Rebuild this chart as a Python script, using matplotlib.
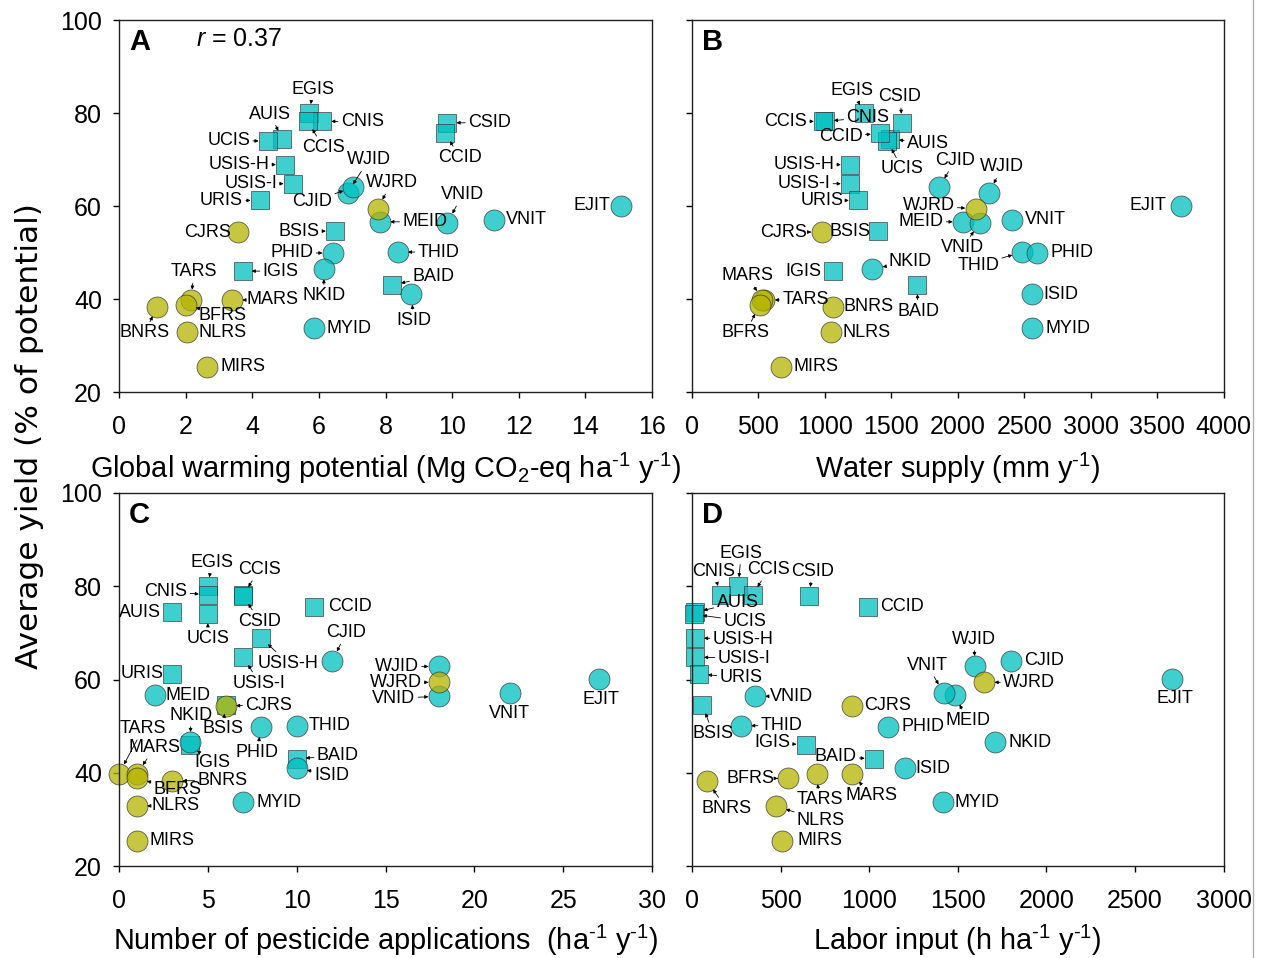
import numpy as np
import matplotlib
matplotlib.use("Agg")
import matplotlib.pyplot as plt
from matplotlib.lines import Line2D

plt.rcParams["font.family"] = "Liberation Sans"
plt.rcParams["mathtext.fontset"] = "custom"
plt.rcParams["mathtext.rm"] = "Liberation Sans"
plt.rcParams["mathtext.it"] = "Liberation Sans:italic"
plt.rcParams["mathtext.bf"] = "Liberation Sans:bold"

# site codes and system type (sq = irrigated upland, cy = irrigated rice, ol = rainfed rice)
sites = ["EGIS", "CNIS", "CCIS", "AUIS", "UCIS", "USIS-H", "USIS-I", "URIS", "BSIS",
         "IGIS", "CSID", "CCID", "BAID",
         "WJID", "CJID", "MEID", "VNID", "VNIT", "EJIT", "THID", "PHID", "NKID",
         "ISID", "MYID",
         "WJRD", "CJRS", "TARS", "MARS", "BFRS", "BNRS", "NLRS", "MIRS"]
group = ["sq"] * 13 + ["cy"] * 11 + ["ol"] * 8

yield_pct = np.array([80.0, 78.2, 78.2, 74.4, 74.0, 68.9, 64.8, 61.2, 54.6,
                      46.0, 77.9, 75.6, 43.0,
                      62.8, 64.0, 56.6, 56.4, 57.0, 60.1, 50.1, 49.9, 46.5,
                      41.0, 33.7,
                      59.4, 54.4, 39.8, 39.8, 38.8, 38.3, 32.9, 25.4])
gwp = np.array([5.71, 6.10, 5.66, 4.90, 4.46, 4.98, 5.21, 4.22, 6.48,
                3.71, 9.86, 9.79, 8.20,
                6.86, 7.03, 7.83, 9.86, 11.27, 15.07, 8.36, 6.42, 6.15,
                8.78, 5.86,
                7.76, 3.58, 2.16, 3.39, 2.01, 1.15, 2.03, 2.64])
water = np.array([1296, 1000, 985, 1490, 1470, 1188, 1188, 1248, 1401,
                  1058, 1581, 1414, 1694,
                  2236, 1860, 2040, 2165, 2408, 3677, 2486, 2596, 1358,
                  2561, 2556,
                  2135, 975, 545, 530, 510, 1058, 1043, 669])
pesticide = np.array([5, 5, 7, 3, 5, 8, 7, 3, 6,
                      4, 7, 11, 10,
                      18, 12, 2, 18, 22, 27, 10, 8, 4,
                      10, 7,
                      18, 6, 0, 1, 1, 3, 1, 1])
labor = np.array([261, 162, 342, 15, 10, 17, 17, 39, 58,
                  641, 662, 995, 1026,
                  1600, 1803, 1483, 355, 1421, 2711, 275, 1104, 1713,
                  1201, 1418,
                  1649, 904, 703, 904, 543, 86, 474, 506])

# label placement per panel: (dx, dy) in pixels from the point, arrow on/off
labels_a = {
    "EGIS": (4, 24, 1), "CNIS": (40, 0, 1), "CCIS": (16, -26, 1), "AUIS": (-12, 25, 1),
    "UCIS": (-39, 0, 1), "USIS-H": (-46, 0, 1), "USIS-I": (-42, 0, 1), "URIS": (-38, 0, 1),
    "BSIS": (-36, 0, 1), "IGIS": (38, 0, 1), "CSID": (42, 0, 1), "CCID": (15, -24, 1),
    "BAID": (41, 9, 1), "WJID": (21, 33, 1), "CJID": (-41, -14, 1), "MEID": (45, 0, 1),
    "VNID": (15, 28, 1), "VNIT": (32, 0, 0), "EJIT": (-29, 0, 0), "THID": (41, 0, 1),
    "PHID": (-41, 0, 1), "NKID": (0, -27, 1), "ISID": (2, -26, 1), "MYID": (35, 0, 0),
    "WJRD": (14, 26, 1), "CJRS": (-31, 0, 0), "TARS": (3, 28, 1), "MARS": (41, 0, 1),
    "BFRS": (37, -11, 1), "BNRS": (-13, -26, 1), "NLRS": (36, 0, 0), "MIRS": (36, 0, 0),
}
labels_b = {
    "EGIS": (-12, 23, 1), "CNIS": (43, 4, 1), "CCIS": (-37, 0, 1), "CSID": (-2, 26, 1),
    "CCID": (-39, -3, 1), "AUIS": (38, -4, 1), "UCIS": (15, -28, 1), "USIS-H": (-46, 0, 1),
    "USIS-I": (-46, 0, 1), "URIS": (-36, 0, 1), "BSIS": (-28, 0, 0), "IGIS": (-29, 0, 0),
    "BAID": (1, -26, 1), "WJID": (13, 26, 1), "CJID": (16, 27, 1), "MEID": (-42, 0, 1),
    "VNID": (-17, -25, 1), "VNIT": (33, 0, 0), "EJIT": (-33, 0, 0), "THID": (-44, -13, 1),
    "PHID": (35, 0, 0), "NKID": (38, 7, 1), "ISID": (29, 0, 0), "MYID": (36, 0, 0),
    "WJRD": (-47, 3, 1), "CJRS": (-38, 0, 1), "TARS": (41, 0, 1), "MARS": (-15, 24, 1),
    "BFRS": (-14, -28, 1), "BNRS": (36, 0, 0), "NLRS": (36, 0, 0), "MIRS": (35, 0, 0),
}
labels_c = {
    "EGIS": (4, 24, 1), "CNIS": (-42, 3, 1), "CCIS": (16, 25, 1), "AUIS": (-32, 0, 0),
    "UCIS": (0, -24, 1), "USIS-H": (27, -25, 1), "USIS-I": (16, -26, 1), "URIS": (-30, 0, 0),
    "BSIS": (-3, -24, 1), "IGIS": (22, -18, 1), "CSID": (16, -25, 1), "CCID": (36, 0, 0),
    "BAID": (41, 3, 1), "WJID": (-42, 0, 1), "CJID": (14, 28, 1), "MEID": (33, 0, 0),
    "VNID": (-45, -2, 1), "VNIT": (0, -20, 0), "EJIT": (2, -20, 0), "THID": (33, 0, 0),
    "PHID": (-4, -26, 1), "NKID": (1, 27, 1), "ISID": (35, -7, 1), "MYID": (36, 0, 0),
    "WJRD": (-43, 0, 1), "CJRS": (43, 0, 1), "TARS": (24, 45, 1), "MARS": (18, 26, 1),
    "BFRS": (41, -11, 1), "BNRS": (50, 0, 1), "NLRS": (39, 0, 1), "MIRS": (35, 0, 0),
}
labels_d = {
    "EGIS": (3, 33, 1), "CNIS": (-7, 23, 1), "CCIS": (16, 25, 1), "AUIS": (43, 10, 1),
    "UCIS": (51, -7, 1), "USIS-H": (48, -1, 1), "USIS-I": (49, -1, 1), "URIS": (42, -4, 1),
    "BSIS": (11, -29, 1), "IGIS": (-33, 2, 1), "CSID": (3, 25, 1), "CCID": (34, 0, 0),
    "BAID": (-38, 2, 1), "WJID": (-2, 27, 1), "CJID": (33, 0, 0), "MEID": (13, -25, 1),
    "VNID": (37, 0, 1), "VNIT": (-16, 28, 1), "EJIT": (3, -19, 0), "THID": (41, 0, 1),
    "PHID": (35, 0, 0), "NKID": (35, 0, 0), "ISID": (28, 0, 0), "MYID": (34, 0, 0),
    "WJRD": (45, 0, 1), "CJRS": (35, 0, 0), "TARS": (3, -26, 1), "MARS": (19, -22, 1),
    "BFRS": (-38, 0, 1), "BNRS": (19, -28, 1), "NLRS": (45, -15, 1), "MIRS": (38, 0, 0),
}

styles = {
    "sq": dict(marker="s", s=175, color="#00c0c0"),
    "cy": dict(marker="o", s=228, color="#00c0c0"),
    "ol": dict(marker="o", s=228, color="#b4b400"),
}

fig = plt.figure(figsize=(12.65, 9.58), dpi=100)
axA = fig.add_axes([0.0941, 0.5908, 0.4213, 0.3883])
axB = fig.add_axes([0.5470, 0.5908, 0.4202, 0.3883])
axC = fig.add_axes([0.0941, 0.0960, 0.4213, 0.3894])
axD = fig.add_axes([0.5470, 0.0960, 0.4202, 0.3894])

grp = np.array(group)


def draw_panel(ax, xvals, labels, xlim, xticks, letter, show_ylabels):
    for g in ["sq", "cy", "ol"]:
        m = grp == g
        st = styles[g]
        ax.scatter(xvals[m], yield_pct[m], marker=st["marker"], s=st["s"],
                   facecolor=st["color"], edgecolor="#303030", linewidth=0.6,
                   alpha=0.75, zorder=2, clip_on=False)
    for name, (dx, dy, arrow) in labels.items():
        i = sites.index(name)
        props = None
        if arrow:
            shrink = 6.5 if group[i] == "sq" else 7.5
            props = dict(arrowstyle="-|>", color="black", lw=0.6,
                         mutation_scale=5, shrinkA=0, shrinkB=shrink)
        ax.annotate(name, (xvals[i], yield_pct[i]), xytext=(dx, dy),
                    textcoords="offset pixels", ha="center", va="center",
                    fontsize=13, arrowprops=props, annotation_clip=False, zorder=3)
    ax.set_xlim(*xlim)
    ax.set_ylim(20, 100)
    ax.set_xticks(xticks)
    ax.set_yticks([20, 40, 60, 80, 100])
    ax.tick_params(direction="out", length=4.3, width=1, labelsize=18)
    ax.tick_params(axis="x", pad=12)
    ax.tick_params(axis="y", pad=8)
    if not show_ylabels:
        ax.set_yticklabels([])
    for sp in ax.spines.values():
        sp.set_linewidth(1)
        sp.set_color("#202020")
    ax.text(0.019, 0.94, letter, transform=ax.transAxes, ha="left", va="center",
            fontsize=21, fontweight="bold")


draw_panel(axA, gwp, labels_a, (0, 16), np.arange(0, 17, 2), "A", True)
draw_panel(axB, water, labels_b, (0, 4000), np.arange(0, 4001, 500), "B", False)
draw_panel(axC, pesticide, labels_c, (0, 30), np.arange(0, 31, 5), "C", True)
draw_panel(axD, labor, labels_d, (0, 3000), np.arange(0, 3001, 500), "D", False)

axA.text(0.1445, 0.948, "$r$ = 0.37", transform=axA.transAxes, ha="left",
         va="center", fontsize=18)

inv = r"^{\text{-}1}"
fig.text(0.3048, 0.501, f"Global warming potential (Mg CO$_2$-eq ha${inv}$ y${inv}$)",
         ha="center", va="baseline", fontsize=20.8)
fig.text(0.7571, 0.501, f"Water supply (mm y${inv}$)",
         ha="center", va="baseline", fontsize=20.8)
fig.text(0.3048, 0.0084, f"Number of pesticide applications  (ha${inv}$ y${inv}$)",
         ha="center", va="baseline", fontsize=20.8)
fig.text(0.7571, 0.0084, f"Labor input (h ha${inv}$ y${inv}$)",
         ha="center", va="baseline", fontsize=20.8)
fig.text(0.0235, 0.545, "Average yield (% of potential)", rotation=90,
         ha="center", va="center", fontsize=22.5, family="DejaVu Sans")

fig.add_artist(Line2D([0.9905, 0.9905], [0, 1], transform=fig.transFigure,
                      color="#b0b0b0", lw=1))

fig.savefig("out.png", dpi=100)
